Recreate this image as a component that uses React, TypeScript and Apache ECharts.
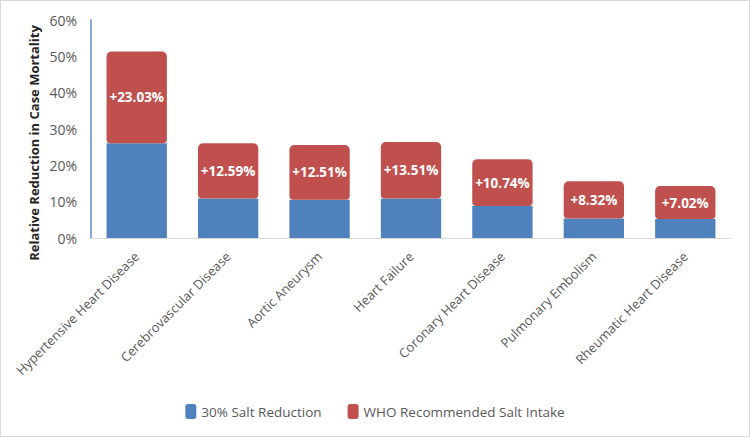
import React, { useEffect, useRef } from "react";
import * as echarts from "echarts";

const categories = [
  "Hypertensive Heart Disease",
  "Cerebrovascular Disease",
  "Aortic Aneurysm",
  "Heart Failure",
  "Coronary Heart Disease",
  "Pulmonary Embolism",
  "Rheumatic Heart Disease",
];
const saltReduction30 = [26.1, 10.9, 10.5, 10.9, 8.8, 5.4, 5.2];
const whoRecommended = [25.2, 15.2, 15.1, 15.5, 12.9, 10.2, 9.1];
const whoLabels = ["+23.03%", "+12.59%", "+12.51%", "+13.51%", "+10.74%", "+8.32%", "+7.02%"];
const yTicks = [0, 10, 20, 30, 40, 50, 60];
const yTitle = "Relative Reduction in Case Mortality";

export default function App() {
  const ref = useRef<HTMLDivElement>(null);
  useEffect(() => {
    if (!ref.current) return;
    const chart = echarts.init(ref.current, null, { renderer: "svg" });
    chart.setOption({
      animation: false,
      backgroundColor: "#ffffff",
      textStyle: { fontFamily: "Open Sans" },
      grid: { left: 90, right: 18, top: 19, bottom: 198, containLabel: false },
      graphic: [
        {
          type: "text",
          x: 33,
          y: 142,
          rotation: Math.PI / 2,
          style: {
            text: yTitle,
            fill: "#262626",
            font: "bold 13px 'Open Sans'",
            textAlign: "center",
            textVerticalAlign: "middle",
          },
        },
      ],
      legend: {
        bottom: 12,
        left: "center",
        itemWidth: 11,
        itemHeight: 15,
        itemGap: 26,
        icon: "roundRect",
        textStyle: { color: "#595959", fontSize: 13.5, fontFamily: "Open Sans" },
        data: ["30% Salt Reduction", "WHO Recommended Salt Intake"],
      },
      xAxis: {
        type: "category",
        data: categories,
        axisLine: { lineStyle: { color: "#d9d9d9" } },
        axisTick: { show: false },
        axisLabel: { rotate: 45, color: "#595959", fontSize: 13, margin: 16, interval: 0 },
      },
      yAxis: {
        type: "value",
        min: yTicks[0],
        max: yTicks[yTicks.length - 1],
        interval: 10,
        axisLine: { show: true, lineStyle: { color: "#5b8bd0", width: 1.5 } },
        axisTick: { show: false },
        splitLine: { show: false },
        axisLabel: { color: "#595959", fontSize: 14, formatter: "{value}%", margin: 14 },
      },
      series: [
        {
          name: "30% Salt Reduction",
          type: "bar",
          stack: "total",
          barWidth: "66%",
          data: saltReduction30,
          itemStyle: { color: "#4f81bd" },
        },
        {
          name: "WHO Recommended Salt Intake",
          type: "bar",
          stack: "total",
          data: whoRecommended,
          itemStyle: { color: "#c0504d", borderRadius: [5, 5, 4, 4] },
          label: {
            show: true,
            position: "inside",
            color: "#ffffff",
            fontWeight: "bold",
            fontSize: 13.5,
            formatter: (p: any) => whoLabels[p.dataIndex],
          },
        },
      ],
    });
    return () => chart.dispose();
  }, []);
  return (
    <div
      style={{
        position: "fixed",
        left: 0,
        top: 0,
        width: 750,
        height: 437,
        boxSizing: "border-box",
        border: "1px solid #d9d9d9",
        background: "#fff",
      }}
    >
      <div ref={ref} style={{ width: 748, height: 435 }} />
    </div>
  );
}
